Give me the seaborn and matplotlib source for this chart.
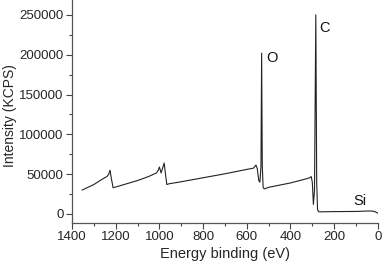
import numpy as np
import pandas as pd
import seaborn as sns
import matplotlib.pyplot as plt
from matplotlib.ticker import MultipleLocator

# survey spectrum (binding energy in eV, counts)
energia = [1354, 1300, 1260, 1240, 1232, 1226, 1220, 1212, 1205, 1100,
           1050, 1014, 1005, 1000, 992, 985, 978, 972, 966, 955,
           900, 800, 700, 600, 570, 558, 552, 545, 540, 535,
           532, 529, 525, 519, 500, 400, 330, 312, 305, 300,
           295, 290, 284, 280, 276, 270, 200, 100, 40, 20, 10, 0]
intensidade = [30000, 37000, 44000, 47000, 50000, 55000, 45000, 33000, 33500, 42000,
               47000, 51500, 55000, 59000, 51500, 58000, 64000, 50000, 37000, 38000,
               40500, 45500, 50500, 56000, 57500, 61500, 57000, 42000, 40000, 60000,
               202000, 60000, 33000, 31500, 33500, 39000, 44000, 45500, 47000, 40000,
               12000, 30000, 250000, 40000, 5000, 2700, 3000, 3200, 3800, 3500, 2500, 1000]

picos = ["O", "C", "Si"]
picos_x = [509, 266, 110]
picos_y = [196000, 233600, 16300]

df = pd.DataFrame({"energia": energia, "intensidade": intensidade})

sns.set_style("ticks")
plt.rcParams['font.family'] = ['Liberation Sans', 'DejaVu Sans']

fig = plt.figure(figsize=(3.84, 2.66), dpi=100)
ax = fig.add_axes([0.1875, 0.1617, 0.7965, 0.8383])

sns.lineplot(data=df, x="energia", y="intensidade", ax=ax, color="#222222",
             linewidth=0.8, sort=False)

for nome, px, py in zip(picos, picos_x, picos_y):
    ax.text(px, py, nome, fontsize=10.5, ha="left", va="center", color="#111111")

ax.set_xlim(1400, 0)
ax.set_ylim(-11300, 268800)
ax.xaxis.set_major_locator(MultipleLocator(200))
ax.xaxis.set_minor_locator(MultipleLocator(100))
ax.yaxis.set_major_locator(MultipleLocator(50000))
ax.yaxis.set_minor_locator(MultipleLocator(25000))
ax.tick_params(which="major", direction="out", length=4, width=0.8, labelsize=9.5, pad=2, color="#444444")
ax.tick_params(which="minor", direction="out", length=2, width=0.8, color="#444444")

for s in ["top", "right"]:
    ax.spines[s].set_visible(False)
for s in ["left", "bottom"]:
    ax.spines[s].set_color("#555555")
    ax.spines[s].set_linewidth(0.9)

ax.set_xlabel("Energy binding (eV)", fontsize=10.5, labelpad=3)
ax.set_ylabel("Intensity (KCPS)", fontsize=10)
ax.yaxis.set_label_coords(-0.18, 0.48)

fig.savefig("out.png", dpi=100)
plt.close(fig)
